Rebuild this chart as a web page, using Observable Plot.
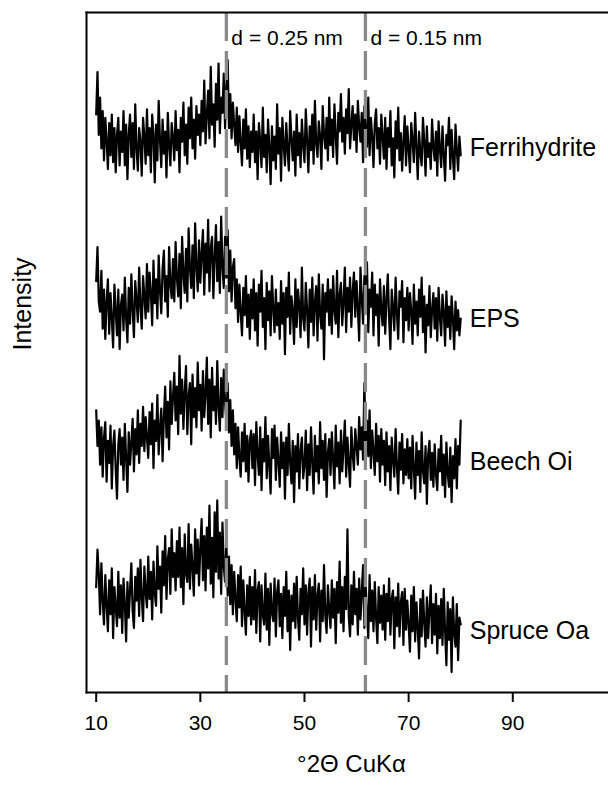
<!DOCTYPE html>
<html>
<head>
<meta charset="utf-8">
<script src="https://cdn.jsdelivr.net/npm/d3@7"></script>
<script src="https://cdn.jsdelivr.net/npm/@observablehq/plot@0.6"></script>
<style>
  html, body { margin: 0; padding: 0; background: #fff; }
</style>
</head>
<body>
<div id="chart"></div>
<script>
// ---- data ----
const twoThetaStart = 10;      // °2Θ of first sample
const twoThetaStep = 0.25;     // sampling step (°2Θ)
const seriesNames = ["Ferrihydrite", "EPS", "Beech Oi", "Spruce Oa"];
const seriesOffsets = [280, 180, 90, 0]; // vertical stacking offsets (a.u.)

const ferrihydrite = [
  60, 85, 48, 70, 40, 62, 33, 58, 45, 28, 55, 36, 60, 32, 52, 26, 48, 58, 30, 50,
  38, 62, 30, 54, 22, 48, 60, 35, 55, 28, 66, 40, 27, 52, 44, 24, 58, 47, 31, 63,
  36, 52, 26, 60, 48, 20, 54, 33, 68, 45, 29, 57, 37, 50, 23, 61, 42, 30, 55, 46,
  33, 62, 39, 51, 26, 58, 44, 67, 36, 54, 31, 64, 46, 70, 40, 57, 34, 65, 48, 60,
  42, 68, 50, 80, 43, 60, 74, 46, 88, 54, 66, 41, 78, 57, 90, 49, 70, 61, 84, 52,
  76, 92, 52, 72, 46, 67, 54, 42, 64, 38, 59, 44, 30, 57, 40, 63, 34, 53, 29, 50,
  38, 60, 32, 50, 22, 55, 44, 29, 64, 35, 48, 26, 57, 41, 19, 53, 33, 47, 28, 66,
  37, 52, 21, 58, 43, 30, 55, 39, 27, 62, 46, 33, 50, 24, 60, 36, 49, 29, 57, 42,
  32, 63, 45, 26, 53, 39, 60, 31, 68, 43, 35, 56, 47, 28, 65, 48, 40, 58, 33, 70,
  42, 57, 35, 66, 48, 31, 61, 50, 72, 44, 58, 37, 63, 49, 75, 40, 54, 65, 45, 60,
  38, 68, 53, 44, 61, 32, 65, 50, 41, 70, 36, 58, 47, 29, 55, 63, 40, 52, 31, 60,
  47, 34, 58, 28, 52, 41, 62, 30, 46, 23, 56, 40, 64, 33, 49, 27, 44, 59, 30, 53,
  40, 26, 55, 45, 32, 61, 41, 22, 50, 37, 30, 58, 44, 24, 53, 35, 43, 28, 57, 41,
  33, 50, 24, 56, 40, 29, 53, 36, 21, 48, 42, 58, 28, 51, 35, 22, 54, 39, 27, 47,
  36
];

const eps = [
  62, 82, 50, 44, 68, 34, 57, 28, 50, 63, 31, 55, 40, 23, 60, 45, 30, 57, 22, 48,
  54, 33, 64, 40, 26, 58, 37, 66, 45, 29, 62, 51, 38, 70, 47, 34, 65, 53, 40, 72,
  44, 67, 55, 36, 74, 49, 63, 40, 77, 57, 43, 69, 80, 50, 65, 41, 82, 60, 52, 75,
  50, 85, 64, 53, 78, 46, 88, 66, 55, 81, 50, 93, 70, 58, 83, 52, 96, 71, 56, 86,
  61, 78, 92, 54, 84, 67, 98, 56, 81, 88, 52, 76, 95, 62, 85, 55, 100, 70, 58, 88,
  64, 92, 56, 80, 50, 70, 75, 46, 63, 38, 60, 44, 30, 58, 42, 65, 35, 54, 28, 57,
  40, 63, 33, 55, 24, 60, 44, 68, 35, 52, 22, 61, 39, 56, 30, 65, 46, 32, 57, 36,
  49, 28, 62, 37, 55, 19, 58, 41, 67, 31, 53, 45, 25, 63, 35, 57, 48, 29, 70, 40,
  33, 61, 45, 23, 57, 38, 64, 30, 50, 59, 27, 66, 42, 34, 60, 16, 55, 44, 63, 36,
  57, 31, 65, 45, 37, 68, 29, 54, 61, 36, 50, 70, 32, 58, 44, 64, 35, 56, 67, 41,
  62, 46, 27, 70, 52, 37, 65, 43, 73, 32, 57, 47, 67, 30, 60, 42, 54, 24, 63, 45,
  36, 59, 31, 51, 66, 40, 22, 57, 46, 33, 64, 43, 28, 56, 47, 62, 26, 52, 39, 58,
  33, 55, 44, 25, 60, 37, 50, 30, 57, 41, 64, 32, 53, 20, 48, 36, 59, 29, 45, 55,
  34, 52, 27, 58, 41, 30, 54, 44, 24, 56, 35, 47, 28, 53, 40, 22, 50, 33, 45, 30,
  40
];

const beechOi = [
  76, 55, 70, 44, 66, 37, 60, 69, 34, 58, 45, 67, 30, 55, 64, 41, 24, 56, 65, 44,
  60, 35, 68, 48, 28, 63, 44, 57, 71, 40, 65, 50, 76, 45, 68, 55, 78, 52, 72, 60,
  48, 75, 56, 80, 42, 70, 58, 85, 50, 66, 77, 46, 72, 90, 60, 81, 53, 93, 68, 84,
  98, 70, 90, 62, 108, 74, 94, 65, 87, 102, 62, 84, 92, 56, 97, 72, 89, 66, 104, 76,
  91, 64, 99, 72, 86, 107, 68, 94, 60, 101, 76, 90, 68, 105, 78, 64, 95, 72, 100, 80,
  70, 92, 63, 82, 55, 76, 50, 68, 42, 66, 48, 37, 63, 46, 68, 40, 61, 34, 58, 64,
  42, 62, 32, 69, 50, 38, 66, 29, 59, 46, 72, 36, 61, 43, 27, 65, 48, 67, 35, 60,
  46, 31, 63, 42, 57, 24, 60, 38, 68, 45, 33, 58, 22, 55, 40, 62, 30, 52, 60, 36,
  44, 64, 29, 56, 38, 66, 45, 27, 61, 40, 55, 33, 69, 42, 58, 35, 62, 25, 51, 59,
  38, 63, 47, 30, 67, 43, 57, 33, 64, 40, 54, 70, 37, 60, 45, 31, 66, 50, 41, 65,
  55, 44, 72, 53, 66, 47, 92, 56, 70, 49, 76, 42, 64, 52, 38, 68, 46, 61, 34, 65,
  44, 58, 32, 63, 40, 55, 29, 60, 47, 37, 65, 43, 27, 57, 41, 62, 33, 53, 38, 59,
  36, 54, 30, 61, 42, 24, 57, 38, 52, 28, 63, 40, 33, 55, 21, 50, 58, 35, 51, 31,
  56, 38, 29, 53, 40, 61, 32, 50, 25, 57, 39, 31, 54, 22, 49, 36, 59, 30, 55, 44,
  70
];

const spruceOa = [
  62, 84, 70, 46, 76, 54, 40, 69, 52, 36, 66, 46, 73, 32, 62, 50, 39, 71, 44, 63,
  35, 67, 52, 30, 65, 44, 60, 76, 48, 38, 68, 54, 73, 45, 78, 56, 42, 74, 59, 50,
  80, 55, 71, 43, 77, 58, 51, 86, 61, 74, 47, 83, 63, 92, 55, 78, 85, 58, 96, 68,
  82, 60, 89, 68, 97, 62, 85, 52, 93, 70, 65, 99, 61, 87, 74, 57, 96, 70, 90, 63,
  86, 102, 66, 92, 60, 97, 73, 110, 64, 91, 56, 106, 71, 113, 67, 94, 58, 100, 74, 65,
  90, 57, 80, 52, 75, 46, 71, 55, 42, 69, 50, 74, 39, 66, 48, 34, 63, 45, 68, 40,
  62, 43, 72, 35, 60, 65, 30, 63, 46, 40, 70, 37, 61, 28, 64, 47, 42, 67, 33, 59,
  66, 39, 58, 32, 62, 45, 71, 36, 60, 25, 57, 42, 64, 38, 68, 44, 31, 61, 46, 73,
  40, 63, 34, 59, 67, 27, 62, 43, 69, 37, 57, 64, 30, 60, 42, 75, 45, 35, 63, 48,
  38, 66, 44, 61, 29, 65, 47, 77, 41, 62, 36, 68, 49, 96, 45, 33, 63, 40, 71, 46,
  61, 34, 67, 43, 59, 75, 38, 64, 46, 32, 69, 42, 60, 36, 65, 44, 29, 62, 41, 57,
  37, 63, 31, 58, 42, 67, 34, 55, 60, 26, 56, 39, 64, 33, 53, 59, 28, 61, 37, 54,
  40, 24, 57, 36, 62, 30, 53, 38, 20, 55, 33, 60, 41, 27, 56, 32, 49, 63, 29, 52,
  34, 58, 23, 51, 32, 55, 28, 61, 36, 16, 53, 31, 49, 12, 56, 35, 27, 52, 19, 44,
  40
];

const xTicks = [10, 30, 50, 70, 90];
const dSpacingPositions = [35, 61.7];
const dSpacingLabels = ["d = 0.25 nm", "d = 0.15 nm"];
const xTitle = "°2Θ CuKα";
const yTitle = "Intensity";

// ---- build table ----
const seriesValues = [ferrihydrite, eps, beechOi, spruceOa];
const rows = [];
seriesValues.forEach((vals, si) => {
  vals.forEach((v, i) => {
    rows.push({
      series: seriesNames[si],
      twoTheta: twoThetaStart + i * twoThetaStep,
      intensity: v + seriesOffsets[si]
    });
  });
});
const labelRows = seriesValues.map((vals, si) => ({
  name: seriesNames[si],
  twoTheta: twoThetaStart + (vals.length - 1) * twoThetaStep,
  intensity: seriesOffsets[si] + d3.mean(vals.slice(-12))
}));
const dRows = dSpacingPositions.map((p, i) => ({ pos: p, label: dSpacingLabels[i] }));

const chart = Plot.plot({
  width: 608,
  height: 789,
  marginLeft: 86,
  marginRight: 0,
  marginTop: 12,
  marginBottom: 97,
  style: { fontFamily: "'Liberation Sans', Arial, sans-serif", background: "#fff", color: "#000" },
  x: { domain: [8.14, 108.38] },
  y: { domain: [0, 400], axis: null },
  marks: [
    Plot.line(rows, { x: "twoTheta", y: "intensity", z: "series", stroke: "#000", strokeWidth: 2.2 }),
    Plot.ruleX(dRows, { x: "pos", stroke: "#8a8a8a", strokeWidth: 3.3, strokeDasharray: "29,10" }),
    Plot.text(dRows, { x: "pos", text: "label", frameAnchor: "top", dy: 18, dx: 5, textAnchor: "start", fontSize: 21, fill: "#000" }),
    Plot.text(labelRows, { x: "twoTheta", y: "intensity", text: "name", dx: 9, textAnchor: "start", fontSize: 25, fill: "#000" }),
    Plot.frame({ anchor: "left", strokeWidth: 2 }),
    Plot.frame({ anchor: "top", strokeWidth: 2 }),
    Plot.frame({ anchor: "bottom", strokeWidth: 2 }),
    Plot.axisX({ ticks: xTicks, tickSize: 10, tickPadding: 13, fontSize: 21, strokeWidth: 2, label: null }),
    Plot.text([yTitle], { frameAnchor: "left", dx: -64, dy: -2, rotate: -90, fontSize: 25, fill: "#000" }),
    Plot.text([xTitle], { frameAnchor: "bottom", dx: 4, dy: 79, fontSize: 24, fill: "#000" })
  ]
});
document.getElementById("chart").append(chart);
</script>
</body>
</html>
